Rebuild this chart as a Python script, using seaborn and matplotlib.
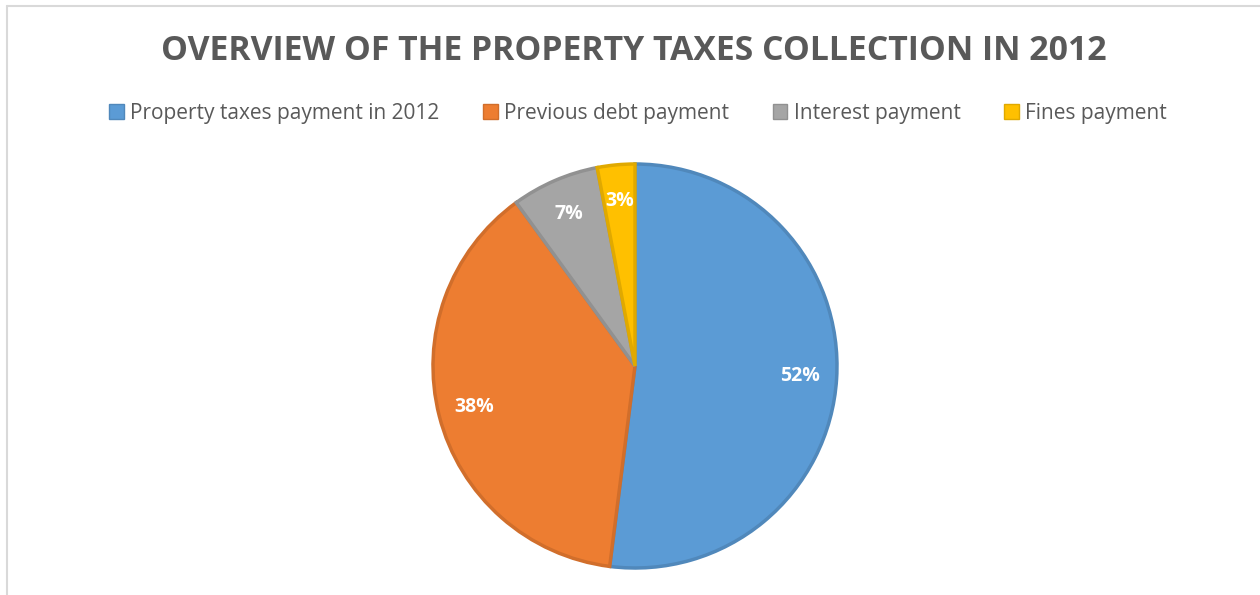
import matplotlib
matplotlib.use("Agg")
import matplotlib.pyplot as plt
import matplotlib.patches as mpatches
from matplotlib.colors import to_rgb
import seaborn as sns

# Property tax collection breakdown, 2012 (shares in percent)
categories = ["Property taxes payment in 2012", "Previous debt payment",
              "Interest payment", "Fines payment"]
shares = [52, 38, 7, 3]
title = "OVERVIEW OF THE PROPERTY TAXES COLLECTION IN 2012"

sns.set_theme(style="white")
plt.rcParams["font.family"] = ["Open Sans", "DejaVu Sans"]
palette = sns.color_palette(["#5B9BD5", "#ED7D31", "#A5A5A5", "#FFC000"])


def darker(c, k=0.88):
    return tuple(v * k for v in to_rgb(c))


fig = plt.figure(figsize=(12.6, 5.95), dpi=100)

# light frame along the top and left edges
fig.add_artist(plt.Line2D([6.5 / 1260, 6.5 / 1260], [0, 1 - 5.5 / 595],
                          transform=fig.transFigure, color="#D9D9D9", lw=1.5))
fig.add_artist(plt.Line2D([6.5 / 1260, 1], [1 - 5.5 / 595, 1 - 5.5 / 595],
                          transform=fig.transFigure, color="#D9D9D9", lw=1.5))

cx, cy, r = 635, 366, 202
ax = fig.add_axes([(cx - r) / 1260, (595 - cy - r) / 595, 2 * r / 1260, 2 * r / 595])
wedges, texts, autotexts = ax.pie(
    shares, colors=palette, startangle=90, counterclock=False,
    autopct="%d%%", pctdistance=0.82, radius=1,
    wedgeprops=dict(linewidth=2.5),
    textprops=dict(color="white", fontsize=14, fontweight="bold"))
for w, c in zip(wedges, palette):
    w.set_edgecolor(darker(c))
    w.set_clip_on(False)
ax.set_xlim(-1, 1)
ax.set_ylim(-1, 1)
ax.axis("off")

fig.text(634 / 1260, 1 - 51 / 595, title, ha="center", va="center",
         fontsize=24.3, fontweight="bold", color="#595959")

handles = [mpatches.Patch(facecolor=c, edgecolor=darker(c)) for c in palette]
fig.legend(handles, categories, loc="center",
           bbox_to_anchor=(638 / 1260, 1 - 113 / 595),
           ncol=4, frameon=False, fontsize=15, labelcolor="#595959",
           handlelength=0.7, handleheight=0.7, handletextpad=0.3,
           columnspacing=2.1)

fig.savefig("out.png", dpi=100, facecolor="white")
